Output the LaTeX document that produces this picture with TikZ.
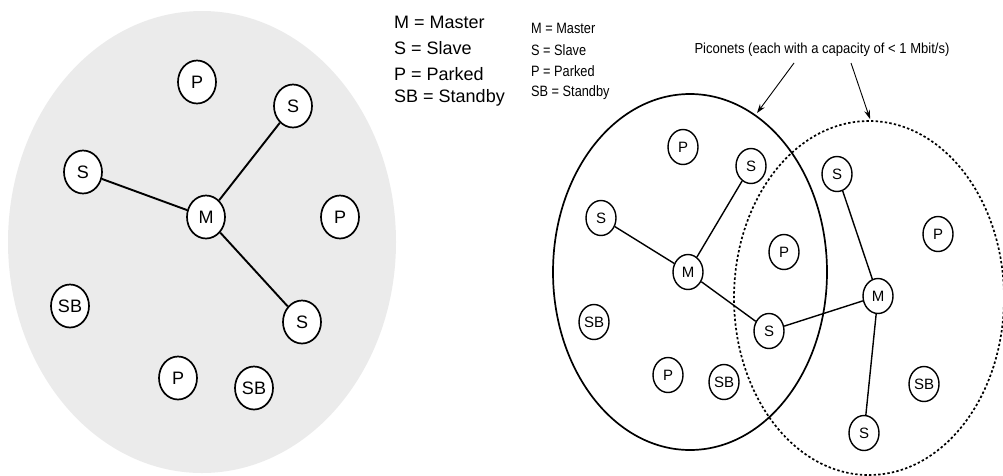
\documentclass[tikz,border=0pt]{standalone}
\usepackage{fontspec}
\setmainfont{Liberation Sans}
\usetikzlibrary{shapes.geometric,arrows.meta}
\tikzset{
  x=1pt, y=-1pt,
  bignode/.style={ellipse, draw, fill=white, line width=1.7pt, inner sep=0pt,
    minimum width=38pt, minimum height=43pt, font=\fontsize{18}{20}\selectfont},
  smallnode/.style={ellipse, draw, fill=white, line width=1.4pt, inner sep=0pt,
    minimum width=30pt, minimum height=35pt, font=\fontsize{15}{17}\selectfont},
  biglink/.style={line width=1.9pt},
  smalllink/.style={line width=1.4pt},
  legend/.style={anchor=west, inner sep=0pt},
  pointer/.style={line width=0.9pt, -{Stealth[length=9pt,width=6pt]}},
}
\begin{document}
\begin{tikzpicture}
\useasboundingbox (0,0) rectangle (1003,475);

% ---- single piconet ----
\fill[black!8] (202,242) ellipse [x radius=194, y radius=231];
\node[bignode] (lP1) at (197,82) {P};
\node[bignode] (lS1) at (293,106) {S};
\node[bignode] (lS2) at (83,172) {S};
\node[bignode] (lM)  at (206,217) {M};
\node[bignode] (lP2) at (340,217) {P};
\node[bignode] (lSB1) at (70,306) {SB};
\node[bignode] (lS3) at (302,322) {S};
\node[bignode] (lP3) at (178,378) {P};
\node[bignode] (lSB2) at (254,388) {SB};
\draw[biglink] (lS2) -- (lM);
\draw[biglink] (lS1) -- (lM);
\draw[biglink] (lM) -- (lS3);

% ---- legends ----
\begin{scope}[font=\fontsize{18}{20}\selectfont]
\node[legend] (k1) at (394,22) {M = Master};
\node[legend] (k2) at (394,48) {S = Slave};
\node[legend] (k3) at (394,74) {P = Parked};
\node[legend] (k4) at (394,98) {SB = Standby};
\end{scope}
\begin{scope}[font=\fontsize{15}{17}\selectfont]
\node[legend, xscale=0.85] (j1) at (531,28) {M = Master};
\node[legend, xscale=0.85] (j2) at (531,50) {S = Slave};
\node[legend, xscale=0.85] (j3) at (531,71) {P = Parked};
\node[legend, xscale=0.85] (j4) at (531,93) {SB = Standby};
\end{scope}

% ---- scatternet ----
\draw[line width=1.7pt] (690,272) ellipse [x radius=137, y radius=178];
\draw[line width=1.7pt, dash pattern=on 2.4pt off 2.2pt] (869,298) ellipse [x radius=135, y radius=177];

\node[smallnode] (rP1) at (683,147) {P};
\node[smallnode] (rS1) at (751,166) {S};
\node[smallnode] (rS2) at (601,218) {S};
\node[smallnode] (rM1) at (688,272) {M};
\node[smallnode] (rP2) at (784,252) {P};
\node[smallnode] (rSB1) at (594,322) {SB};
\node[smallnode] (rS3) at (769,331) {S};
\node[smallnode] (rP3) at (668,375) {P};
\node[smallnode] (rSB2) at (724,382) {SB};
\node[smallnode] (rS4) at (837,174) {S};
\node[smallnode] (rP4) at (938,234) {P};
\node[smallnode] (rM2) at (878,296) {M};
\node[smallnode] (rSB3) at (924,384) {SB};
\node[smallnode] (rS5) at (864,433) {S};

\draw[smalllink] (rS2) -- (rM1);
\draw[smalllink] (rS1) -- (rM1);
\draw[smalllink] (rM1) -- (rS3);
\draw[smalllink] (rS3) -- (rM2);
\draw[smalllink] (rS4) -- (rM2);
\draw[smalllink] (rM2) -- (rS5);

% ---- caption with pointers ----
\node[inner sep=0pt, font=\fontsize{14.5}{16}\selectfont, xscale=0.9] (cap) at (822,50) {Piconets (each with a capacity of < 1 Mbit/s)};
\coordinate (a1) at (757,113);
\coordinate (a2) at (870,119);
\draw[pointer] (794,63) -- (a1);
\draw[pointer] (851,63) -- (a2);
\end{tikzpicture}
\end{document}
